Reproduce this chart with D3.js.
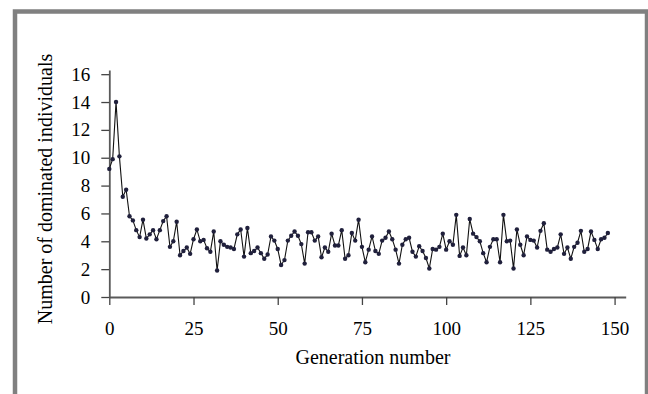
<!DOCTYPE html>
<html>
<head>
<meta charset="utf-8">
<script src="https://cdn.jsdelivr.net/npm/d3@7"></script>
<style>
  body { margin: 0; background: #fff; }
  svg { display: block; }
  text { font-family: "Liberation Serif", "Times New Roman", serif; fill: #000; }
</style>
</head>
<body>
<div id="showChart"></div>
<script>
// number of dominated individuals per generation
var dominated = [
  9.2, 9.9, 14.0, 10.1, 7.2, 7.7, 5.8, 5.5, 4.8, 4.3,
  5.55, 4.2, 4.5, 4.8, 4.15, 4.8, 5.45, 5.8, 3.6, 4.0,
  5.4, 3.0, 3.3, 3.55, 3.1, 4.15, 4.85, 4.0, 4.1, 3.5,
  3.25, 4.7, 1.9, 4.0, 3.75, 3.6, 3.55, 3.45, 4.5, 4.85,
  2.9, 4.95, 3.15, 3.3, 3.55, 3.15, 2.75, 3.05, 4.35, 4.05,
  3.45, 2.3, 2.65, 4.05, 4.4, 4.7, 4.4, 3.8, 2.4, 4.65,
  4.65, 4.05, 4.35, 2.85, 3.55, 3.25, 4.55, 3.7, 3.7, 4.8,
  2.75, 3.0, 4.6, 4.05, 5.55, 3.6, 2.5, 3.4, 4.35, 3.3,
  3.1, 4.05, 4.25, 4.7, 4.15, 3.4, 2.4, 3.75, 4.15, 4.25,
  3.25, 2.9, 3.65, 3.3, 2.8, 2.05, 3.45, 3.4, 3.6, 4.55,
  3.4, 4.0, 3.75, 5.9, 2.95, 3.55, 3.0, 5.6, 4.55, 4.3,
  4.0, 3.15, 2.5, 3.6, 4.15, 4.15, 2.5, 5.9, 4.0, 4.05,
  2.05, 4.85, 3.75, 3.0, 4.35, 4.1, 4.05, 3.55, 4.75, 5.3,
  3.4, 3.25, 3.45, 3.55, 4.5, 3.1, 3.55, 2.75, 3.6, 3.9,
  4.75, 3.25, 3.45, 4.7, 4.1, 3.45, 4.15, 4.25, 4.6
];

var xTicks = [0, 25, 50, 75, 100, 125, 150];
var yTicks = [0, 2, 4, 6, 8, 10, 12, 14, 16];

var xTitle = "Generation number";
var yTitle = "Number of dominated individuals";

var width = 648, height = 394;

var svg = d3.select("#showChart")
    .append("svg")
    .attr("width", width)
    .attr("height", height);

svg.append("rect")
    .attr("width", width)
    .attr("height", height)
    .attr("fill", "#fff");

// grey frame, open at the bottom
svg.append("rect")
    .attr("x", 15)
    .attr("y", 11.5)
    .attr("width", 632)
    .attr("height", 420)
    .attr("fill", "none")
    .attr("stroke", "#808080")
    .attr("stroke-width", 4.5);

var x = d3.scaleLinear().domain([0, 153.3]).range([109.3, 625.7]);
var y = d3.scaleLinear().domain([0, 16.3]).range([297, 70]);

// x axis
var xAxis = svg.append("g")
    .attr("transform", "translate(0," + y(0) + ")")
    .call(d3.axisBottom(x).tickValues(xTicks).tickSize(8).tickSizeOuter(0).tickPadding(17));

// y axis
var yAxis = svg.append("g")
    .attr("transform", "translate(" + x(0) + ",0)")
    .call(d3.axisLeft(y).tickValues(yTicks).tickSize(8).tickSizeOuter(0).tickPadding(11));

[xAxis, yAxis].forEach(function(ax) {
    ax.select(".domain").attr("stroke", "#5a5a5a").attr("stroke-width", 1.8);
    ax.selectAll(".tick line").attr("stroke", "#444").attr("stroke-width", 1.3);
    ax.selectAll(".tick text")
        .attr("font-family", "Liberation Serif, Times New Roman, serif")
        .attr("font-size", 19)
        .attr("fill", "#000");
});

// data line
var line = d3.line()
    .x(function(d, i) { return x(i); })
    .y(function(d) { return y(d); });

svg.append("path")
    .datum(dominated)
    .attr("d", line)
    .attr("fill", "none")
    .attr("stroke", "#111")
    .attr("stroke-width", 1.1);

svg.selectAll(".pt")
    .data(dominated)
    .enter()
    .append("circle")
    .attr("class", "pt")
    .attr("cx", function(d, i) { return x(i); })
    .attr("cy", function(d) { return y(d); })
    .attr("r", 2.2)
    .attr("fill", "#20203c");

// axis titles
svg.append("text")
    .attr("x", 373)
    .attr("y", 364)
    .attr("text-anchor", "middle")
    .attr("font-size", 20)
    .text(xTitle);

svg.append("text")
    .attr("transform", "translate(52,189) rotate(-90)")
    .attr("text-anchor", "middle")
    .attr("font-size", 20)
    .text(yTitle);
</script>
</body>
</html>
